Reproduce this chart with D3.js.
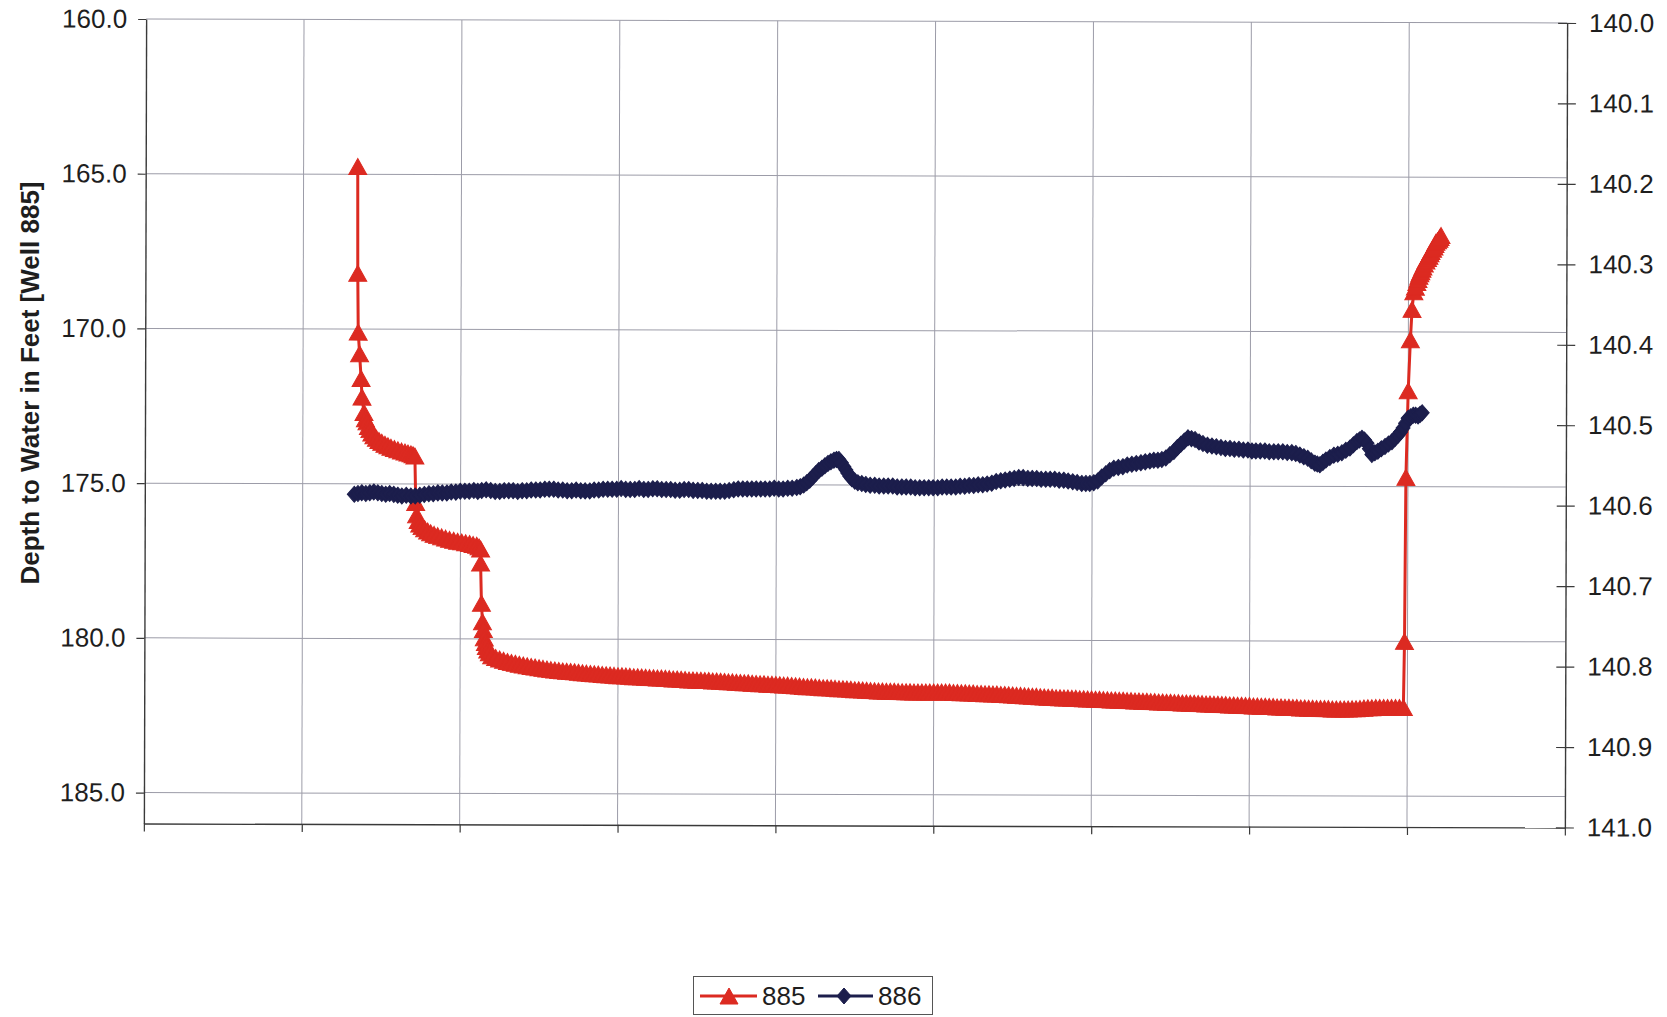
<!DOCTYPE html>
<html>
<head>
<meta charset="utf-8">
<script src="https://cdn.jsdelivr.net/npm/d3@7"></script>
<style>
  html, body { margin: 0; padding: 0; background: #ffffff; }
  svg { display: block; }
  text { font-family: "Liberation Sans", Arial, sans-serif; fill: #1e1e1e; }
</style>
</head>
<body>
<svg id="chart" width="1667" height="1017"></svg>
<script>
// ---------------- DATA ----------------
// x positions are in chart grid units (the reference shows no x tick labels)
const xTicks = [0, 1, 2, 3, 4, 5, 6, 7, 8, 9];
const leftTicks = [160, 165, 170, 175, 180, 185];
const rightTicks = [140.0, 140.1, 140.2, 140.3, 140.4, 140.5, 140.6, 140.7, 140.8, 140.9, 141.0];
const seriesNames = ["885", "886"];
const yLabel = "Depth to Water in Feet [Well 885]";

// Well 885 – depth to water (left axis), [time, depth]
const well885 = [
  [1.343,164.75],[1.345,168.2],[1.349,170.1],[1.358,170.8],[1.368,171.6],[1.374,172.2],[1.387,172.7],
  [1.396,172.9],[1.406,173.0],[1.415,173.15],[1.425,173.25],[1.437,173.36],[1.450,173.45],[1.466,173.53],
  [1.482,173.6],[1.500,173.66],[1.520,173.72],[1.539,173.77],[1.558,173.82],[1.580,173.86],[1.602,173.9],
  [1.625,173.94],[1.647,173.97],[1.666,174.0],[1.685,174.03],[1.698,174.06],[1.710,174.1],
  [1.716,175.6],[1.722,176.0],[1.732,176.18],[1.742,176.3],[1.757,176.38],[1.773,176.45],[1.792,176.52],
  [1.811,176.58],[1.833,176.63],[1.856,176.67],[1.881,176.71],[1.906,176.75],[1.931,176.79],[1.957,176.82],
  [1.982,176.85],[2.008,176.87],[2.033,176.9],[2.058,176.92],[2.080,176.95],[2.103,176.98],[2.118,177.03],
  [2.128,177.1],
  [2.128,177.55],[2.134,178.85],[2.141,179.45],[2.147,179.7],[2.153,179.97],[2.160,180.12],[2.166,180.25],
  [2.175,180.36],[2.185,180.45],
  [2.200,180.55],[2.225,180.60],[2.250,180.65],[2.275,180.69],[2.300,180.73],[2.325,180.76],[2.350,180.79],
  [2.375,180.82],[2.400,180.84],[2.425,180.87],[2.450,180.89],[2.475,180.91],[2.500,180.93],[2.525,180.95],
  [2.550,180.97],[2.575,180.99],[2.600,181.00],[2.625,181.02],[2.650,181.03],[2.675,181.04],[2.700,181.05],
  [2.725,181.06],[2.750,181.07],[2.775,181.09],[2.800,181.10],[2.825,181.11],[2.850,181.12],[2.875,181.13],
  [2.900,181.14],[2.925,181.15],[2.950,181.16],[2.975,181.17],[3.000,181.18],[3.025,181.18],[3.050,181.19],
  [3.075,181.20],[3.100,181.21],[3.125,181.21],[3.150,181.22],[3.175,181.23],[3.200,181.24],[3.225,181.24],
  [3.250,181.25],[3.275,181.25],[3.300,181.26],[3.325,181.27],[3.350,181.28],[3.375,181.28],[3.400,181.29],
  [3.425,181.30],[3.450,181.31],[3.475,181.31],[3.500,181.32],[3.525,181.32],[3.550,181.33],[3.575,181.33],
  [3.600,181.34],[3.625,181.34],[3.650,181.35],[3.675,181.36],[3.700,181.37],[3.725,181.37],[3.750,181.38],
  [3.775,181.39],[3.800,181.40],[3.825,181.40],[3.850,181.41],[3.875,181.42],[3.900,181.43],[3.925,181.43],
  [3.950,181.44],[3.975,181.44],[4.000,181.45],[4.025,181.46],[4.050,181.47],[4.075,181.47],[4.100,181.48],
  [4.125,181.49],[4.150,181.50],[4.175,181.51],[4.200,181.52],[4.225,181.52],[4.250,181.53],[4.275,181.54],
  [4.300,181.55],[4.325,181.55],[4.350,181.56],[4.375,181.57],[4.400,181.58],[4.425,181.58],[4.450,181.59],
  [4.475,181.60],[4.500,181.61],[4.525,181.61],[4.550,181.62],[4.575,181.63],[4.600,181.64],[4.625,181.64],
  [4.650,181.65],[4.675,181.65],[4.700,181.66],[4.725,181.66],[4.750,181.66],[4.775,181.67],[4.800,181.67],
  [4.825,181.67],[4.850,181.67],[4.875,181.68],[4.900,181.68],[4.925,181.68],[4.950,181.68],[4.975,181.68],
  [5.000,181.68],[5.025,181.68],[5.050,181.68],[5.075,181.68],[5.100,181.68],[5.125,181.69],[5.150,181.69],
  [5.175,181.70],[5.200,181.70],[5.225,181.71],[5.250,181.71],[5.275,181.72],[5.300,181.72],[5.325,181.73],
  [5.350,181.73],[5.375,181.74],[5.400,181.74],[5.425,181.75],[5.450,181.75],[5.475,181.76],[5.500,181.77],
  [5.525,181.78],[5.550,181.78],[5.575,181.79],[5.600,181.80],[5.625,181.81],[5.650,181.81],[5.675,181.82],
  [5.700,181.83],[5.725,181.84],[5.750,181.84],[5.775,181.85],[5.800,181.85],[5.825,181.86],[5.850,181.86],
  [5.875,181.87],[5.900,181.87],[5.925,181.88],[5.950,181.88],[5.975,181.89],[6.000,181.89],[6.025,181.90],
  [6.050,181.90],[6.075,181.91],[6.100,181.91],[6.125,181.92],[6.150,181.92],[6.175,181.93],[6.200,181.93],
  [6.225,181.94],[6.250,181.94],[6.275,181.95],[6.300,181.95],[6.325,181.96],[6.350,181.96],[6.375,181.97],
  [6.400,181.97],[6.425,181.98],[6.450,181.98],[6.475,181.99],[6.500,181.99],[6.525,182.00],[6.550,182.00],
  [6.575,182.01],[6.600,182.01],[6.625,182.02],[6.650,182.02],[6.675,182.03],[6.700,182.03],[6.725,182.04],
  [6.750,182.04],[6.775,182.05],[6.800,182.05],[6.825,182.06],[6.850,182.06],[6.875,182.07],[6.900,182.07],
  [6.925,182.08],[6.950,182.08],[6.975,182.09],[7.000,182.09],[7.025,182.10],[7.050,182.10],[7.075,182.11],
  [7.100,182.11],[7.125,182.12],[7.150,182.12],[7.175,182.13],[7.200,182.13],[7.225,182.14],[7.250,182.14],
  [7.275,182.15],[7.300,182.15],[7.325,182.16],[7.350,182.16],[7.375,182.17],[7.400,182.17],[7.425,182.18],
  [7.450,182.18],[7.475,182.18],[7.500,182.18],[7.525,182.19],[7.550,182.19],[7.575,182.19],[7.600,182.19],
  [7.625,182.19],[7.650,182.18],[7.675,182.18],[7.700,182.17],[7.725,182.16],[7.750,182.15],[7.775,182.15],
  [7.800,182.14],[7.825,182.14],[7.850,182.14],[7.875,182.14],[7.900,182.14],[7.925,182.14],[7.950,182.14],
  [7.975,182.14],
  [7.981,180.0],[7.987,174.7],[8.000,171.9],[8.013,170.25],[8.023,169.27],[8.034,168.7],[8.044,168.55],
  [8.053,168.4],[8.060,168.3],[8.066,168.2],[8.072,168.12],[8.078,168.05],[8.085,167.97],[8.091,167.9],
  [8.100,167.8],[8.110,167.7],[8.120,167.62],[8.129,167.55],[8.136,167.47],[8.142,167.4],[8.152,167.32],
  [8.161,167.25],[8.167,167.17],[8.173,167.1],[8.183,167.05],[8.192,167.0],[8.199,166.94],[8.205,166.88]
];

// Well 886 – depth to water (right axis), [time, depth]
const well886 = [
  [1.327,140.590],[1.350,140.589],[1.374,140.588],[1.400,140.589],[1.425,140.588],[1.450,140.587],
  [1.476,140.588],[1.501,140.589],[1.526,140.590],[1.551,140.589],[1.577,140.590],[1.602,140.591],
  [1.628,140.592],[1.656,140.591],[1.685,140.592],[1.713,140.592],[1.742,140.591],[1.770,140.590],
  [1.799,140.589],[1.827,140.589],[1.856,140.588],[1.884,140.588],[1.913,140.588],[1.941,140.587],
  [1.970,140.587],[1.998,140.586],[2.027,140.586],[2.055,140.586],[2.084,140.585],[2.109,140.586],
  [2.134,140.585],[2.162,140.584],[2.191,140.585],[2.219,140.586],[2.248,140.586],[2.276,140.585],
  [2.305,140.585],[2.333,140.585],[2.362,140.586],[2.390,140.585],[2.419,140.585],[2.447,140.584],
  [2.476,140.584],[2.504,140.584],[2.533,140.583],[2.561,140.583],[2.590,140.583],[2.618,140.584],
  [2.647,140.584],[2.675,140.585],[2.704,140.585],[2.732,140.584],[2.761,140.585],[2.789,140.585],
  [2.818,140.585],[2.846,140.584],[2.875,140.584],[2.903,140.583],[2.932,140.583],[2.960,140.583],
  [2.989,140.583],[3.017,140.582],[3.046,140.583],[3.074,140.583],[3.103,140.583],[3.131,140.582],
  [3.160,140.583],[3.188,140.583],[3.217,140.582],[3.245,140.582],[3.274,140.583],[3.302,140.583],
  [3.331,140.583],[3.359,140.584],[3.388,140.584],[3.416,140.583],[3.445,140.583],[3.473,140.584],
  [3.502,140.584],[3.530,140.584],[3.559,140.585],[3.587,140.585],[3.616,140.585],[3.644,140.585],
  [3.673,140.585],[3.701,140.584],[3.730,140.583],[3.758,140.582],[3.787,140.582],[3.815,140.582],
  [3.844,140.582],[3.872,140.582],[3.901,140.582],[3.929,140.582],[3.958,140.582],[3.986,140.581],
  [4.015,140.582],[4.043,140.582],[4.072,140.581],[4.100,140.581],[4.129,140.580],[4.151,140.579],
  [4.173,140.577],[4.192,140.574],[4.211,140.571],[4.230,140.567],[4.249,140.563],[4.268,140.559],
  [4.288,140.556],[4.307,140.553],[4.326,140.550],[4.345,140.548],[4.364,140.546],[4.380,140.545],
  [4.395,140.545],[4.411,140.549],[4.427,140.554],[4.440,140.558],[4.452,140.562],[4.465,140.566],
  [4.478,140.569],[4.497,140.572],[4.516,140.574],[4.541,140.575],[4.566,140.576],[4.594,140.577],
  [4.623,140.577],[4.651,140.578],[4.680,140.578],[4.708,140.578],[4.737,140.578],[4.765,140.579],
  [4.794,140.579],[4.822,140.579],[4.851,140.579],[4.879,140.580],[4.908,140.580],[4.936,140.580],
  [4.965,140.580],[4.993,140.580],[5.022,140.580],[5.050,140.579],[5.079,140.579],[5.107,140.579],
  [5.136,140.579],[5.164,140.578],[5.193,140.578],[5.221,140.577],[5.250,140.577],[5.278,140.576],
  [5.307,140.576],[5.335,140.575],[5.364,140.574],[5.392,140.572],[5.421,140.571],[5.449,140.570],
  [5.478,140.569],[5.506,140.568],[5.535,140.567],[5.563,140.567],[5.592,140.568],[5.620,140.568],
  [5.649,140.568],[5.677,140.569],[5.706,140.569],[5.734,140.569],[5.763,140.569],[5.791,140.570],
  [5.820,140.570],[5.848,140.571],[5.877,140.572],[5.905,140.573],[5.934,140.574],[5.960,140.574],
  [5.985,140.574],[6.010,140.573],[6.035,140.571],[6.060,140.566],[6.086,140.562],[6.111,140.558],
  [6.137,140.555],[6.165,140.554],[6.194,140.553],[6.222,140.551],[6.251,140.550],[6.279,140.549],
  [6.308,140.548],[6.336,140.547],[6.365,140.546],[6.390,140.545],[6.416,140.545],[6.441,140.544],
  [6.466,140.542],[6.491,140.538],[6.517,140.534],[6.539,140.529],[6.561,140.525],[6.583,140.521],
  [6.606,140.517],[6.628,140.518],[6.651,140.519],[6.676,140.522],[6.701,140.524],[6.729,140.526],
  [6.758,140.527],[6.786,140.528],[6.815,140.529],[6.843,140.530],[6.872,140.530],[6.900,140.531],
  [6.929,140.531],[6.957,140.532],[6.986,140.532],[7.011,140.533],[7.036,140.533],[7.064,140.533],
  [7.093,140.533],[7.121,140.534],[7.150,140.534],[7.178,140.534],[7.207,140.534],[7.235,140.535],
  [7.264,140.535],[7.289,140.536],[7.315,140.538],[7.340,140.540],[7.365,140.542],[7.387,140.545],
  [7.410,140.548],[7.426,140.549],[7.442,140.550],[7.461,140.547],[7.480,140.544],[7.505,140.541],
  [7.530,140.538],[7.555,140.537],[7.581,140.535],[7.606,140.532],[7.632,140.529],[7.654,140.525],
  [7.676,140.521],[7.692,140.519],[7.708,140.517],[7.724,140.519],[7.740,140.523],[7.755,140.530],
  [7.771,140.537],[7.790,140.535],[7.809,140.533],[7.831,140.530],[7.854,140.527],[7.876,140.524],
  [7.898,140.521],[7.917,140.517],[7.936,140.513],[7.952,140.509],[7.968,140.504],[7.984,140.498],
  [8.000,140.492],[8.016,140.490],[8.032,140.488],[8.047,140.488],[8.063,140.489],[8.076,140.487],
  [8.089,140.485]
];

const colors = { "885": "#dc2a21", "886": "#1c1e4c" };

// ---------------- LAYOUT ----------------
const plot = { left: 145, right: 1566, top: 21, bottom: 825.5 };
const svg = d3.select("#chart");
svg.append("rect").attr("width", 1667).attr("height", 1017).attr("fill", "#ffffff");

const x = d3.scaleLinear().domain([0, 9]).range([plot.left, plot.right]);
const yL = d3.scaleLinear().domain([160, 186]).range([plot.top, plot.bottom]);
const yR = d3.scaleLinear().domain([140, 141]).range([plot.top, plot.bottom]);

const cx = (plot.left + plot.right) / 2, cy = (plot.top + plot.bottom) / 2;
const g = svg.append("g").attr("transform", `rotate(0.16, ${cx}, ${cy})`);

// gridlines
const gridColor = "#9c9ca8";
g.append("g").selectAll("line").data(leftTicks).join("line")
  .attr("x1", plot.left).attr("x2", plot.right)
  .attr("y1", d => yL(d)).attr("y2", d => yL(d))
  .attr("stroke", gridColor).attr("stroke-width", 1);
g.append("g").selectAll("line").data(xTicks.slice(1, -1)).join("line")
  .attr("x1", d => x(d)).attr("x2", d => x(d))
  .attr("y1", plot.top).attr("y2", plot.bottom)
  .attr("stroke", gridColor).attr("stroke-width", 1);

// axes
const axisColor = "#3a3a3a";
function styleAxis(sel) {
  sel.select(".domain").attr("stroke", axisColor).attr("stroke-width", 1.4);
  sel.selectAll(".tick line").attr("stroke", axisColor).attr("stroke-width", 1.2);
  sel.selectAll(".tick text")
    .attr("font-family", '"Liberation Sans", Arial, sans-serif')
    .attr("font-size", 26).attr("fill", "#1e1e1e");
}

const axL = g.append("g").attr("transform", `translate(${plot.left},0)`)
  .call(d3.axisLeft(yL).tickValues(leftTicks).tickFormat(d3.format(".1f"))
    .tickSize(8).tickSizeOuter(0).tickPadding(11));
styleAxis(axL);

const axR = g.append("g").attr("transform", `translate(${plot.right},0)`)
  .call(d3.axisRight(yR).tickValues(rightTicks).tickFormat(d3.format(".1f"))
    .tickSize(9).tickSizeOuter(0).tickPadding(13));
styleAxis(axR);
axR.selectAll(".tick line").attr("x1", -9).attr("x2", 9);

const axB = g.append("g").attr("transform", `translate(0,${plot.bottom})`)
  .call(d3.axisBottom(x).tickValues(xTicks).tickFormat("").tickSize(8).tickSizeOuter(0));
styleAxis(axB);

// markers
const triPath = "M0,-8 L9,8 L-9,8 Z";
const diaPath = "M0,-8 L7,0 L0,8 L-7,0 Z";

// series 885 (left axis)
const line885 = d3.line().x(d => x(d[0])).y(d => yL(d[1]));
const s885 = g.append("g");
s885.append("path").datum(well885).attr("d", line885)
  .attr("fill", "none").attr("stroke", colors["885"]).attr("stroke-width", 3);
s885.selectAll("path.m").data(well885).join("path").attr("class", "m")
  .attr("d", triPath)
  .attr("transform", d => `translate(${x(d[0])},${yL(d[1])})`)
  .attr("fill", colors["885"]).attr("stroke", colors["885"]).attr("stroke-width", 1);

// series 886 (right axis)
const line886 = d3.line().x(d => x(d[0])).y(d => yR(d[1]));
const s886 = g.append("g");
s886.append("path").datum(well886).attr("d", line886)
  .attr("fill", "none").attr("stroke", colors["886"]).attr("stroke-width", 3);
s886.selectAll("path.m").data(well886).join("path").attr("class", "m")
  .attr("d", diaPath)
  .attr("transform", d => `translate(${x(d[0])},${yR(d[1])})`)
  .attr("fill", colors["886"]).attr("stroke", colors["886"]).attr("stroke-width", 1);

// y axis title
svg.append("text")
  .attr("transform", "translate(39,383) rotate(-90)")
  .attr("text-anchor", "middle")
  .attr("font-size", 26).attr("font-weight", "bold")
  .text(yLabel);

// legend
const lg = svg.append("g");
lg.append("rect").attr("x", 693.5).attr("y", 976.5).attr("width", 239).attr("height", 38)
  .attr("fill", "#ffffff").attr("stroke", "#555555").attr("stroke-width", 1);
const legendItems = [
  { name: seriesNames[0], x0: 700, x1: 757, mx: 729, tx: 762, path: triPath },
  { name: seriesNames[1], x0: 818, x1: 873, mx: 844, tx: 878, path: diaPath }
];
const ly = 996;
legendItems.forEach(it => {
  lg.append("line").attr("x1", it.x0).attr("x2", it.x1).attr("y1", ly).attr("y2", ly)
    .attr("stroke", colors[it.name]).attr("stroke-width", 3);
  lg.append("path").attr("d", it.path).attr("transform", `translate(${it.mx},${ly})`)
    .attr("fill", colors[it.name]).attr("stroke", colors[it.name]);
  lg.append("text").attr("x", it.tx).attr("y", ly + 9).attr("font-size", 26).text(it.name);
});
</script>
</body>
</html>
